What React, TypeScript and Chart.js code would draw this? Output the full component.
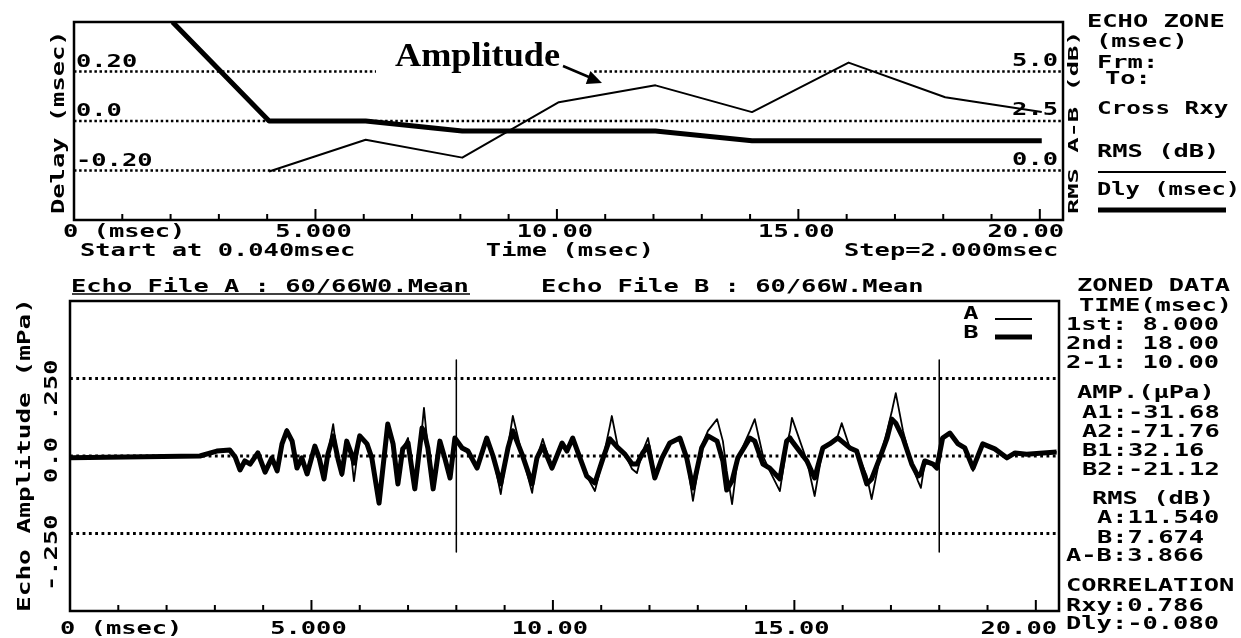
import React, { useEffect, useRef } from "react";
import { Chart, registerables } from "chart.js";
Chart.register(...registerables);

// ---------- Top panel data (step analysis) ----------
const stepTimes = [0.04, 2.04, 4.04, 6.04, 8.04, 10.04, 12.04, 14.04, 16.04, 18.04, 20.04];
const delayMsec = [null, 0.4, 0.0, 0.0, -0.04, -0.04, -0.04, -0.08, -0.08, -0.08, -0.08];
const rmsDiffDb = [null, null, -0.05, 1.55, 0.65, 3.45, 4.3, 2.95, 5.45, 3.7, 2.95];
const delayTicks = [0.2, 0.0, -0.2];
const delayTickLabels = ["0.20", "0.0", "-0.20"];
const dbTicks = [5.0, 2.5, 0.0];
const dbTickLabels = ["5.0", "2.5", "0.0"];
const timeTicks = [5, 10, 15, 20];
const topTimeLabels = ["5.000", "10.00", "15.00", "20.00"];
const botTimeLabels = ["5.000", "10.00", "15.00", "20.00"];
const zoneText = ["ECHO ZONE", "(msec)", "Frm:", "To:", "Cross Rxy", "RMS (dB)", "Dly (msec)"];

// ---------- Bottom panel data (echo waveforms) ----------
const echoTime = [
  0.0, 2.69, 3.04, 3.31, 3.42, 3.52, 3.62, 3.73, 3.89, 4.04,
  4.18, 4.29, 4.39, 4.49, 4.6, 4.7, 4.8, 4.91, 5.07, 5.16,
  5.26, 5.34, 5.45, 5.55, 5.63, 5.73, 5.82, 5.88, 6.0, 6.15,
  6.25, 6.4, 6.58, 6.69, 6.79, 6.89, 7.0, 7.14, 7.29, 7.33,
  7.41, 7.52, 7.66, 7.76, 7.87, 7.97, 8.12, 8.24, 8.43, 8.63,
  8.76, 8.92, 9.07, 9.17, 9.36, 9.57, 9.67, 9.79, 9.98, 10.19,
  10.29, 10.41, 10.56, 10.7, 10.87, 11.04, 11.18, 11.22, 11.35, 11.49,
  11.64, 11.74, 11.86, 11.97, 12.11, 12.26, 12.42, 12.63, 12.77, 12.9,
  13.08, 13.21, 13.4, 13.52, 13.6, 13.71, 13.83, 14.08, 14.18, 14.35,
  14.49, 14.7, 14.84, 14.91, 14.95, 15.26, 15.42, 15.59, 15.73, 15.9,
  15.98, 16.15, 16.29, 16.5, 16.6, 16.77, 16.92, 17.02, 17.1, 17.25,
  17.43, 17.56, 17.62, 17.7, 17.87, 17.95, 18.07, 18.22, 18.39, 18.53,
  18.7, 18.9, 19.15, 19.4, 19.57, 19.81, 20.43,
];
const echoA = [
  -0.006, 0.0, 0.016, 0.023, -0.003, -0.048, -0.016, -0.026, 0.01, -0.055,
  -0.006, -0.048, 0.039, 0.087, 0.048, -0.039, -0.006, -0.058, 0.032, -0.006,
  -0.074, 0.006, 0.103, -0.016, -0.065, 0.048, 0.006, -0.081, 0.065, 0.039,
  -0.006, -0.152, 0.103, 0.039, -0.09, 0.023, 0.058, -0.106, 0.09, 0.155,
  0.026, -0.106, 0.048, -0.006, -0.071, 0.058, 0.026, 0.016, -0.039, 0.058,
  0.0, -0.123, 0.032, 0.129, 0.006, -0.119, -0.006, 0.055, -0.039, 0.042,
  0.016, 0.058, -0.006, -0.065, -0.113, -0.006, 0.097, 0.129, 0.026, 0.006,
  -0.042, -0.055, 0.016, 0.058, -0.058, -0.006, 0.042, 0.058, -0.006, -0.145,
  0.032, 0.081, 0.119, 0.048, -0.048, -0.155, -0.006, 0.081, 0.119, 0.0,
  -0.048, -0.113, 0.032, 0.081, 0.123, -0.016, -0.129, 0.026, 0.039, 0.065,
  0.106, 0.026, 0.016, -0.065, -0.139, -0.006, 0.081, 0.145, 0.203, 0.081,
  -0.026, -0.081, -0.103, -0.023, -0.026, -0.039, 0.058, 0.074, 0.039, 0.026,
  -0.048, 0.039, 0.023, -0.006, 0.01, 0.006, 0.013,
];
const echoB = [
  -0.006, 0.0, 0.016, 0.019, -0.003, -0.045, -0.016, -0.026, 0.01, -0.052,
  -0.006, -0.048, 0.039, 0.081, 0.048, -0.039, -0.006, -0.058, 0.032, -0.006,
  -0.074, 0.006, 0.065, -0.01, -0.058, 0.048, 0.01, -0.023, 0.065, 0.039,
  -0.006, -0.152, 0.103, 0.039, -0.09, 0.023, 0.042, -0.106, 0.09, 0.081,
  0.026, -0.106, 0.048, -0.006, -0.071, 0.058, 0.026, 0.016, -0.039, 0.058,
  0.0, -0.09, 0.026, 0.081, 0.006, -0.09, -0.006, 0.032, -0.039, 0.042,
  0.016, 0.058, -0.006, -0.065, -0.087, -0.006, 0.055, 0.048, 0.026, 0.006,
  -0.026, -0.026, 0.01, 0.032, -0.071, -0.006, 0.042, 0.058, -0.006, -0.103,
  0.026, 0.065, 0.048, -0.016, -0.11, -0.08, -0.006, 0.058, 0.048, -0.026,
  -0.039, -0.074, 0.048, 0.058, 0.048, -0.016, -0.071, 0.026, 0.039, 0.058,
  0.048, 0.026, 0.016, -0.09, -0.074, -0.006, 0.058, 0.119, 0.106, 0.058,
  -0.026, -0.065, -0.058, -0.016, -0.026, -0.039, 0.058, 0.074, 0.039, 0.026,
  -0.039, 0.039, 0.023, -0.006, 0.01, 0.006, 0.013,
];
const ampTicks = [0.25, 0.0, -0.25];
const ampTickLabels = [".250", "0.0", "-.250"];
const cursorTimes = [8.0, 18.0];
const cursorSpan = [0.31, -0.31];
const zonedText = [
  "ZONED DATA", "TIME(msec)", "1st: 8.000", "2nd: 18.00", "2-1: 10.00",
  "AMP.(\u03bcPa)", "A1:-31.68", "A2:-71.76", "B1:32.16", "B2:-21.12",
  "RMS (dB)", "A:11.540", "B:7.674", "A-B:3.866",
  "CORRELATION", "Rxy:0.786", "Dly:-0.080",
];

// ---------- drawing helpers ----------
const FAMILY = '"DejaVu Sans Mono", "Liberation Mono", monospace';
function txt(ctx: CanvasRenderingContext2D, s: string, x: number, y: number,
  o: { size?: number; pitch?: number; align?: CanvasTextAlign; rot?: number } = {}) {
  const size = o.size ?? 17;
  const pitch = o.pitch ?? 15.3;
  const sx = pitch / (size * 0.602);
  ctx.save();
  ctx.translate(x, y);
  if (o.rot) ctx.rotate(o.rot);
  ctx.scale(sx, 1);
  ctx.font = `bold ${size}px ${FAMILY}`;
  ctx.textAlign = o.align ?? "left";
  ctx.textBaseline = "alphabetic";
  ctx.fillStyle = "#000";
  ctx.fillText(s, 0, (size * 0.729) / 2);
  ctx.restore();
}
function hline(ctx: CanvasRenderingContext2D, x1: number, x2: number, y: number, w: number, dash: number[] = []) {
  ctx.save();
  ctx.strokeStyle = "#000";
  ctx.lineWidth = w;
  ctx.setLineDash(dash);
  ctx.beginPath();
  ctx.moveTo(x1, y);
  ctx.lineTo(x2, y);
  ctx.stroke();
  ctx.restore();
}
function vline(ctx: CanvasRenderingContext2D, x: number, y1: number, y2: number, w: number) {
  ctx.save();
  ctx.strokeStyle = "#000";
  ctx.lineWidth = w;
  ctx.beginPath();
  ctx.moveTo(x, y1);
  ctx.lineTo(x, y2);
  ctx.stroke();
  ctx.restore();
}
function frame(ctx: CanvasRenderingContext2D, a: any, x: any) {
  ctx.save();
  ctx.strokeStyle = "#000";
  ctx.lineWidth = 2.5;
  ctx.strokeRect(a.left, a.top, a.right - a.left, a.bottom - a.top);
  ctx.restore();
  for (let t = 1; t <= 20; t++) {
    const px = x.getPixelForValue(t);
    vline(ctx, px, a.bottom, a.bottom - (t % 5 === 0 ? 11 : 6), 2);
  }
}

const PI2 = -Math.PI / 2;

// ---------- top chart ----------
function topConfig(): any {
  const decor = {
    id: "topDecor",
    beforeDatasetsDraw(chart: any) {
      const { ctx, chartArea: a, scales } = chart;
      delayTicks.forEach((v) => hline(ctx, a.left, a.right, scales.y.getPixelForValue(v), 2.5, [2.5, 2.6]));
      // annotation label
      ctx.save();
      ctx.fillStyle = "#fff";
      ctx.fillRect(376, 60, 216, 18);
      ctx.font = 'bold 34px "Liberation Serif", "DejaVu Serif", serif';
      const w = ctx.measureText("Amplitude").width;
      ctx.translate(395, 66);
      ctx.scale(165 / w, 1);
      ctx.fillStyle = "#000";
      ctx.textAlign = "left";
      ctx.fillText("Amplitude", 0, 0);
      ctx.restore();
      ctx.save();
      ctx.strokeStyle = "#000";
      ctx.fillStyle = "#000";
      ctx.lineWidth = 2.5;
      ctx.beginPath();
      ctx.moveTo(563, 66);
      ctx.lineTo(596, 80);
      ctx.stroke();
      ctx.beginPath();
      ctx.moveTo(602, 83);
      ctx.lineTo(585.8, 84);
      ctx.lineTo(590.4, 71);
      ctx.closePath();
      ctx.fill();
      ctx.restore();
    },
    afterDatasetsDraw(chart: any) {
      const { ctx, chartArea: a, scales } = chart;
      frame(ctx, a, scales.x);
      delayTicks.forEach((v, i) => txt(ctx, delayTickLabels[i], a.left + 2, scales.y.getPixelForValue(v) - 11));
      dbTicks.forEach((v, i) => txt(ctx, dbTickLabels[i], a.right - 5, scales.y2.getPixelForValue(v) - 12, { align: "right" }));
      txt(ctx, "0 (msec)", 63, 231);
      timeTicks.forEach((t, i) => {
        if (i === timeTicks.length - 1) txt(ctx, topTimeLabels[i], a.right + 1, 231, { align: "right" });
        else txt(ctx, topTimeLabels[i], scales.x.getPixelForValue(t) - 2, 231, { align: "center" });
      });
      txt(ctx, "Start at 0.040msec", 80, 250);
      txt(ctx, "Time (msec)", 570, 250, { align: "center" });
      txt(ctx, "Step=2.000msec", 844, 250);
      txt(ctx, "Delay (msec)", 58, 214, { rot: PI2 });
      txt(ctx, "RMS A-B (dB)", 1073, 214, { rot: PI2, size: 14 });
      const zx = [1087, 1096, 1097, 1105, 1097, 1097, 1097];
      const zy = [21, 41, 62, 78, 108, 151, 189];
      const zp = [15.3, 15.3, 15.3, 15.3, 14.6, 15.3, 14.3];
      zoneText.forEach((s, i) => txt(ctx, s, zx[i], zy[i], { pitch: zp[i] }));
      hline(ctx, 1098, 1226, 172, 2);
      hline(ctx, 1098, 1226, 210, 5);
    },
  };
  return {
    type: "line",
    data: {
      datasets: [
        {
          label: "Dly (msec)",
          data: stepTimes.map((t, i) => ({ x: t, y: delayMsec[i] })),
          borderColor: "#000",
          borderWidth: 5,
          pointRadius: 0,
          yAxisID: "y",
          spanGaps: false,
        },
        {
          label: "RMS (dB)",
          data: stepTimes.map((t, i) => ({ x: t, y: rmsDiffDb[i] })),
          borderColor: "#000",
          borderWidth: 2,
          pointRadius: 0,
          yAxisID: "y2",
          spanGaps: false,
        },
      ],
    },
    options: {
      animation: false,
      responsive: false,
      devicePixelRatio: 1,
      layout: { padding: { left: 74, right: 178, top: 22, bottom: 42 } },
      plugins: { legend: { display: false }, tooltip: { enabled: false }, title: { display: false } },
      elements: { line: { tension: 0, borderJoinStyle: "round" } },
      scales: {
        x: { type: "linear", min: 0, max: 20.48, display: false },
        y: { type: "linear", min: -0.4, max: 0.4, display: false },
        y2: { type: "linear", min: -2.5, max: 7.5, display: false },
      },
    },
    plugins: [decor],
  };
}

// ---------- bottom chart ----------
const B0 = 262;
function botConfig(): any {
  const P = (y: number) => y - B0;
  const decor = {
    id: "botDecor",
    beforeDatasetsDraw(chart: any) {
      const { ctx, chartArea: a, scales } = chart;
      ampTicks.forEach((v) => hline(ctx, a.left, a.right, scales.y.getPixelForValue(v), 2.8, [2.8, 3.5]));
    },
    afterDatasetsDraw(chart: any) {
      const { ctx, chartArea: a, scales } = chart;
      frame(ctx, a, scales.x);
      ampTicks.forEach((v, i) => txt(ctx, ampTickLabels[i], 51, scales.y.getPixelForValue(v) - 19, { rot: PI2, align: "right" }));
      txt(ctx, "Echo Amplitude (mPa)", 24, P(612), { rot: PI2, pitch: 15.7 });
      txt(ctx, "0 (msec)", 60, P(628));
      timeTicks.forEach((t, i) => {
        if (i === timeTicks.length - 1) txt(ctx, botTimeLabels[i], a.right - 2, P(628), { align: "right" });
        else txt(ctx, botTimeLabels[i], scales.x.getPixelForValue(t) - 3, P(628), { align: "center" });
      });
      txt(ctx, "Echo File A : 60/66W0.Mean", 71, P(286));
      hline(ctx, 72, 470, P(294), 1.5);
      txt(ctx, "Echo File B : 60/66W.Mean", 541, P(286));
      // legend
      txt(ctx, "A", 971, P(313), { align: "center" });
      hline(ctx, 995, 1032, P(319), 2);
      txt(ctx, "B", 971, P(332), { align: "center" });
      hline(ctx, 995, 1032, P(337), 5);
      const zx = [1077, 1079, 1066, 1066, 1066, 1077, 1082, 1082, 1082, 1082, 1092, 1097, 1097, 1066, 1066, 1066, 1066];
      const zy = [285, 305, 324, 343, 362, 392, 412, 431, 450, 469, 498, 517, 537, 555, 585, 605, 623];
      zonedText.forEach((s, i) => txt(ctx, s, zx[i], P(zy[i])));
    },
  };
  const cursorSets = cursorTimes.map((t) => ({
    label: "cursor",
    data: cursorSpan.map((v) => ({ x: t, y: v })),
    borderColor: "#000",
    borderWidth: 1.5,
    pointRadius: 0,
  }));
  return {
    type: "line",
    data: {
      datasets: [
        {
          label: "B",
          data: echoTime.map((t, i) => ({ x: t, y: echoB[i] })),
          borderColor: "#000",
          borderWidth: 5,
          pointRadius: 0,
        },
        {
          label: "A",
          data: echoTime.map((t, i) => ({ x: t, y: echoA[i] })),
          borderColor: "#000",
          borderWidth: 1.8,
          pointRadius: 0,
        },
        ...cursorSets,
      ],
    },
    options: {
      animation: false,
      responsive: false,
      devicePixelRatio: 1,
      layout: { padding: { left: 70, right: 182, top: 301 - B0, bottom: 638 - 611 } },
      plugins: { legend: { display: false }, tooltip: { enabled: false }, title: { display: false } },
      elements: { line: { tension: 0, borderJoinStyle: "round" } },
      scales: {
        x: { type: "linear", min: 0, max: 20.48, display: false },
        y: { type: "linear", min: -0.5, max: 0.5, display: false },
      },
    },
    plugins: [decor],
  };
}

export default function App() {
  const topRef = useRef<HTMLCanvasElement>(null);
  const botRef = useRef<HTMLCanvasElement>(null);
  useEffect(() => {
    const c1 = new Chart(topRef.current as HTMLCanvasElement, topConfig());
    const c2 = new Chart(botRef.current as HTMLCanvasElement, botConfig());
    return () => {
      c1.destroy();
      c2.destroy();
    };
  }, []);
  return (
    <div style={{ position: "fixed", left: 0, top: 0, width: 1241, height: 638, background: "#fff" }}>
      <canvas ref={topRef} width={1241} height={262}
        style={{ position: "absolute", left: 0, top: 0, width: 1241, height: 262 }} />
      <canvas ref={botRef} width={1241} height={376}
        style={{ position: "absolute", left: 0, top: B0, width: 1241, height: 376 }} />
    </div>
  );
}
